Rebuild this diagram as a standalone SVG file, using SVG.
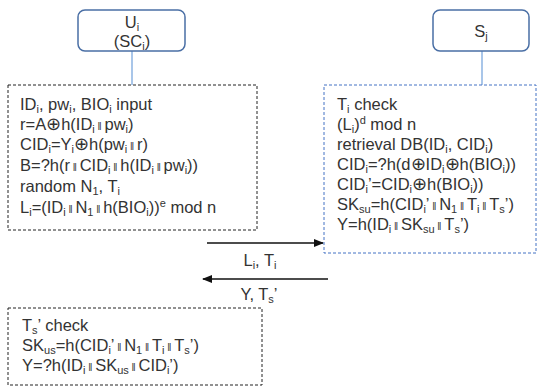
<svg xmlns="http://www.w3.org/2000/svg" width="543" height="387" viewBox="0 0 543 387">
<defs>
<style>
text{font-family:"Liberation Sans","Noto Sans",sans-serif;font-size:16.5px;fill:#333}
.s{font-size:11px;baseline-shift:-3px}
.u{font-size:11px;baseline-shift:6px}
.b{font-size:10px}
.x{font-size:18px}
.ent{fill:#fff;stroke:#4a6fa5;stroke-width:1.5}
.stem{stroke:#8db3e2;stroke-width:1.5;fill:none}
.dk{fill:#fff;stroke:#222;stroke-width:1;stroke-dasharray:3 2}
.db{fill:#fff;stroke:#4472c4;stroke-width:1;stroke-dasharray:3 2}
.ar{stroke:#111;stroke-width:1.5;fill:none}
</style>
<marker id="ah" markerWidth="10" markerHeight="8" refX="9" refY="4" orient="auto" markerUnits="userSpaceOnUse">
<path d="M0,0 L10,4 L0,8 Z" fill="#111"/>
</marker>
</defs>

<g id="connectors">
<line class="stem" x1="132" y1="51" x2="132" y2="85"/>
<line class="stem" x1="482" y1="51" x2="482" y2="85"/>
<line class="ar" x1="207" y1="243" x2="323" y2="243" marker-end="url(#ah)"/>
<line class="ar" x1="328" y1="279" x2="203" y2="279" marker-end="url(#ah)"/>
<text x="260" y="266" text-anchor="middle">L<tspan class="s">i</tspan>, T<tspan class="s">i</tspan></text>
<text x="259" y="300" text-anchor="middle">Y, T<tspan class="s">s</tspan>’</text>
</g>

<g id="user">
<rect class="ent" x="78" y="10" width="107" height="41" rx="7"/>
<text x="132" y="28" text-anchor="middle">U<tspan class="s">i</tspan></text>
<text x="132" y="47" text-anchor="middle">(SC<tspan class="s">i</tspan>)</text>
</g>

<g id="server">
<rect class="ent" x="433" y="10" width="96" height="41" rx="7"/>
<text x="481" y="37" text-anchor="middle">S<tspan class="s">j</tspan></text>
</g>

<g id="user-steps">
<rect class="dk" x="8" y="85" width="249" height="145"/>
<text x="20" y="110">ID<tspan class="s">i</tspan>, pw<tspan class="s">i</tspan>, BIO<tspan class="s">i</tspan> input</text>
<text x="20" y="130">r=A<tspan class="x">⊕</tspan>h(ID<tspan class="s">i</tspan><tspan class="b"> ‖ </tspan>pw<tspan class="s">i</tspan>)</text>
<text x="20" y="150">CID<tspan class="s">i</tspan>=Y<tspan class="s">i</tspan><tspan class="x">⊕</tspan>h(pw<tspan class="s">i</tspan><tspan class="b"> ‖ </tspan>r)</text>
<text x="20" y="171">B=?h(r<tspan class="b"> ‖ </tspan>CID<tspan class="s">i</tspan><tspan class="b"> ‖ </tspan>h(ID<tspan class="s">i</tspan><tspan class="b"> ‖ </tspan>pw<tspan class="s">i</tspan>))</text>
<text x="20" y="192">random N<tspan class="s">1</tspan>, T<tspan class="s">i</tspan></text>
<text x="20" y="213">L<tspan class="s">i</tspan>=(ID<tspan class="s">i</tspan><tspan class="b"> ‖ </tspan>N<tspan class="s">1</tspan><tspan class="b"> ‖ </tspan>h(BIO<tspan class="s">i</tspan>))<tspan class="u">e</tspan> mod n</text>
</g>

<g id="server-steps">
<rect class="db" x="324" y="85" width="212" height="168"/>
<text x="337" y="110">T<tspan class="s">i</tspan> check</text>
<text x="337" y="130">(L<tspan class="s">i</tspan>)<tspan class="u">d</tspan> mod n</text>
<text x="337" y="150">retrieval DB(ID<tspan class="s">i</tspan>, CID<tspan class="s">i</tspan>)</text>
<text x="337" y="170">CID<tspan class="s">i</tspan>=?h(d<tspan class="x">⊕</tspan>ID<tspan class="s">i</tspan><tspan class="x">⊕</tspan>h(BIO<tspan class="s">i</tspan>))</text>
<text x="337" y="190">CID<tspan class="s">i</tspan>’=CID<tspan class="s">i</tspan><tspan class="x">⊕</tspan>h(BIO<tspan class="s">i</tspan>))</text>
<text x="337" y="210">SK<tspan class="s">su</tspan>=h(CID<tspan class="s">i</tspan>’<tspan class="b"> ‖ </tspan>N<tspan class="s">1</tspan><tspan class="b"> ‖ </tspan>T<tspan class="s">i</tspan><tspan class="b"> ‖ </tspan>T<tspan class="s">s</tspan>’)</text>
<text x="337" y="230">Y=h(ID<tspan class="s">i</tspan><tspan class="b"> ‖ </tspan>SK<tspan class="s">su</tspan><tspan class="b"> ‖ </tspan>T<tspan class="s">s</tspan>’)</text>
</g>

<g id="user-verify">
<rect class="dk" x="8" y="308" width="254" height="77"/>
<text x="22" y="331">T<tspan class="s">s</tspan>’ check</text>
<text x="22" y="351">SK<tspan class="s">us</tspan>=h(CID<tspan class="s">i</tspan>’<tspan class="b"> ‖ </tspan>N<tspan class="s">1</tspan><tspan class="b"> ‖ </tspan>T<tspan class="s">i</tspan><tspan class="b"> ‖ </tspan>T<tspan class="s">s</tspan>’)</text>
<text x="22" y="371">Y=?h(ID<tspan class="s">i</tspan><tspan class="b"> ‖ </tspan>SK<tspan class="s">us</tspan><tspan class="b"> ‖ </tspan>CID<tspan class="s">i</tspan>’)</text>
</g>
</svg>
